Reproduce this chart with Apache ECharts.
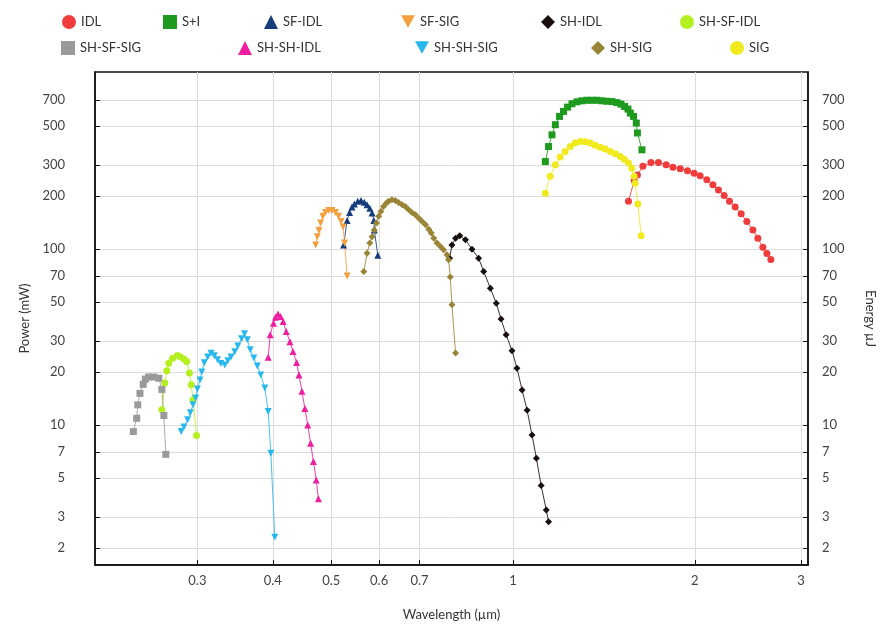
<!DOCTYPE html>
<html>
<head>
<meta charset="utf-8">
<script src="https://cdn.jsdelivr.net/npm/echarts@6/dist/echarts.min.js"></script>
</head>
<body style="margin:0">
<div id="main" style="width:887px;height:627px;"></div>
<script>
// wavelength (um), power (mW)
var IDL = [[1.553,186],[1.587,244],[1.607,263],[1.641,294],[1.692,309],[1.741,309],[1.793,300],[1.840,291],[1.892,285],[1.945,278],[1.995,269],[2.041,260],[2.094,247],[2.143,231],[2.189,216],[2.237,201],[2.283,186],[2.333,173],[2.387,158],[2.439,143],[2.496,128],[2.544,115],[2.593,102],[2.633,94],[2.673,87]];
var SI = [[1.131,313],[1.145,381],[1.160,444],[1.175,507],[1.194,565],[1.212,603],[1.231,638],[1.252,667],[1.276,684],[1.300,693],[1.325,698],[1.351,698],[1.377,698],[1.403,693],[1.430,689],[1.458,686],[1.486,677],[1.509,664],[1.530,644],[1.550,622],[1.564,590],[1.583,565],[1.600,518],[1.607,455],[1.635,365]];
var SF_IDL = [[0.524,105],[0.531,145],[0.536,161],[0.541,173],[0.546,180],[0.553,186],[0.560,188],[0.567,184],[0.573,178],[0.579,170],[0.584,160],[0.588,145],[0.589,128],[0.597,92]];
var SF_SIG = [[0.471,105],[0.474,117],[0.477,127],[0.480,140],[0.484,153],[0.489,161],[0.495,165],[0.501,165],[0.508,161],[0.514,153],[0.519,143],[0.523,133],[0.526,108],[0.531,70]];
var SH_IDL = [[0.785,88.5],[0.792,105],[0.803,115],[0.816,118.5],[0.834,112.5],[0.855,99.6],[0.877,88.5],[0.894,74.3],[0.917,59.8],[0.938,49.1],[0.955,39.9],[0.974,32.5],[0.996,26.4],[1.015,21.0],[1.035,15.8],[1.055,12.1],[1.075,8.77],[1.093,6.47],[1.113,4.52],[1.135,3.29],[1.145,2.82]];
var SH_SF_IDL = [[0.262,12.2],[0.265,17.3],[0.267,20.3],[0.269,22.4],[0.273,23.9],[0.278,24.8],[0.281,24.4],[0.285,23.7],[0.288,22.9],[0.291,19.7],[0.293,16.9],[0.295,13.9],[0.299,8.7]];
var SH_SF_SIG = [[0.235,9.16],[0.238,10.9],[0.239,13.0],[0.241,15.1],[0.244,17.0],[0.246,18.2],[0.249,18.7],[0.254,18.7],[0.259,18.4],[0.262,15.9],[0.264,11.3],[0.266,6.8]];
var SH_SH_IDL = [[0.393,24.2],[0.396,32.5],[0.401,37.8],[0.404,40.9],[0.408,42.7],[0.412,41.2],[0.416,38.6],[0.421,33.9],[0.427,29.7],[0.432,26.1],[0.438,22.6],[0.442,19.2],[0.447,15.5],[0.452,12.4],[0.457,10.0],[0.462,7.87],[0.467,6.19],[0.472,4.87],[0.476,3.80]];
var SH_SH_SIG = [[0.282,9.16],[0.285,9.74],[0.289,10.7],[0.292,11.7],[0.295,13.0],[0.298,14.2],[0.300,16.0],[0.303,18.0],[0.305,20.0],[0.308,22.5],[0.312,24.3],[0.316,25.5],[0.320,24.7],[0.324,23.4],[0.328,22.3],[0.333,21.9],[0.337,23.1],[0.341,24.3],[0.346,26.0],[0.350,28.1],[0.355,30.8],[0.359,32.9],[0.363,30.4],[0.367,26.7],[0.372,24.0],[0.377,21.6],[0.382,19.2],[0.388,16.2],[0.393,11.9],[0.397,6.9],[0.403,2.30]];
var SH_SIG = [[0.566,74.3],[0.573,94.5],[0.579,108],[0.584,117],[0.589,128],[0.594,140],[0.599,153],[0.604,163],[0.610,174],[0.617,182],[0.622,186],[0.630,190],[0.638,188],[0.646,183],[0.655,178],[0.663,174],[0.671,167],[0.680,161],[0.689,156],[0.698,149],[0.707,143],[0.716,137],[0.725,129],[0.732,123],[0.739,115],[0.748,108],[0.758,103],[0.767,98.7],[0.777,92.4],[0.782,86.6],[0.787,69.1],[0.792,48.1],[0.803,25.6]];
var SIG = [[1.131,207],[1.152,258],[1.175,300],[1.197,332],[1.220,357],[1.244,381],[1.267,399],[1.292,407],[1.317,406],[1.342,399],[1.368,388],[1.394,378],[1.421,369],[1.449,357],[1.477,347],[1.505,335],[1.528,323],[1.553,307],[1.573,287],[1.587,258],[1.593,236],[1.610,180],[1.630,118.5]];

var xTicks = [0.3, 0.4, 0.5, 0.6, 0.7, 1, 2, 3];
var yTicks = [2, 3, 5, 7, 10, 20, 30, 50, 70, 100, 200, 300, 500, 700];

var downTri = 'path://M0,0L10,0L5,9Z';
var font = 'Lato, "Open Sans", sans-serif';

// name, data, color, symbol, legend left, legend top
var list = [
  ['IDL', IDL, '#f03c3c', 'circle', 57, 10],
  ['S+I', SI, '#1e9b1e', 'rect', 158, 10],
  ['SF-IDL', SF_IDL, '#173c7c', 'triangle', 259, 10],
  ['SF-SIG', SF_SIG, '#f5a040', downTri, 396, 10],
  ['SH-IDL', SH_IDL, '#180e0e', 'diamond', 536, 10],
  ['SH-SF-IDL', SH_SF_IDL, '#b4f020', 'circle', 675, 10],
  ['SH-SF-SIG', SH_SF_SIG, '#9a9a9a', 'rect', 56, 36],
  ['SH-SH-IDL', SH_SH_IDL, '#ee1ea0', 'triangle', 233, 36],
  ['SH-SH-SIG', SH_SH_SIG, '#28b8ee', downTri, 410, 36],
  ['SH-SIG', SH_SIG, '#9a8436', 'diamond', 586, 36],
  ['SIG', SIG, '#f0ea1e', 'circle', 725, 36]
];

var series = [], legends = [];
list.forEach(function (s) {
  series.push({
    name: s[0], type: 'line', data: s[1],
    symbol: s[3], symbolSize: 7,
    itemStyle: { color: s[2] },
    lineStyle: { color: s[2], width: 1, opacity: 0.85 },
    animation: false
  });
  legends.push({
    data: [{ name: s[0], icon: s[3] }], left: s[4], top: s[5],
    itemWidth: 14, itemHeight: 14, itemGap: 6,
    textStyle: { fontSize: 13, color: '#333', fontFamily: font }
  });
});

function yAxis(pos) {
  return {
    type: 'log', logBase: 10, min: 1.6, max: 1010, position: pos,
    name: pos == 'left' ? 'Power (mW)' : 'Energy µJ',
    nameLocation: 'middle',
    nameGap: pos == 'left' ? 62 : 56,
    nameRotate: pos == 'left' ? 90 : -90,
    nameTextStyle: { fontSize: 13, color: '#333', fontFamily: font },
    axisLine: { show: true, lineStyle: { color: '#111', width: 1.5 } },
    axisTick: { inside: true, length: 5, customValues: yTicks, lineStyle: { color: '#111' } },
    axisLabel: { customValues: yTicks, margin: pos == 'left' ? 30 : 14, fontSize: 13, color: '#444', fontFamily: font },
    splitLine: { show: pos == 'left', lineStyle: { color: '#dcdcdc' } },
    minorTick: { show: false }
  };
}

var myChart = echarts.init(document.getElementById('main'));
myChart.setOption({
  backgroundColor: '#fff',
  grid: { left: 95, right: 79, top: 72, bottom: 62, show: true, borderColor: '#111', borderWidth: 1.5 },
  legend: legends,
  xAxis: {
    type: 'log', logBase: 10, min: 0.203, max: 3.08,
    name: 'Wavelength (µm)', nameLocation: 'middle', nameGap: 43,
    nameTextStyle: { fontSize: 13, color: '#333', fontFamily: font },
    axisLine: { lineStyle: { color: '#111', width: 1.5 } },
    axisTick: { inside: true, length: 5, customValues: xTicks, lineStyle: { color: '#111' } },
    axisLabel: { customValues: xTicks, margin: 9, fontSize: 13, color: '#444', fontFamily: font },
    splitLine: { show: true, lineStyle: { color: '#dcdcdc' } }
  },
  yAxis: [yAxis('left'), yAxis('right')],
  series: series
});
</script>
</body>
</html>
